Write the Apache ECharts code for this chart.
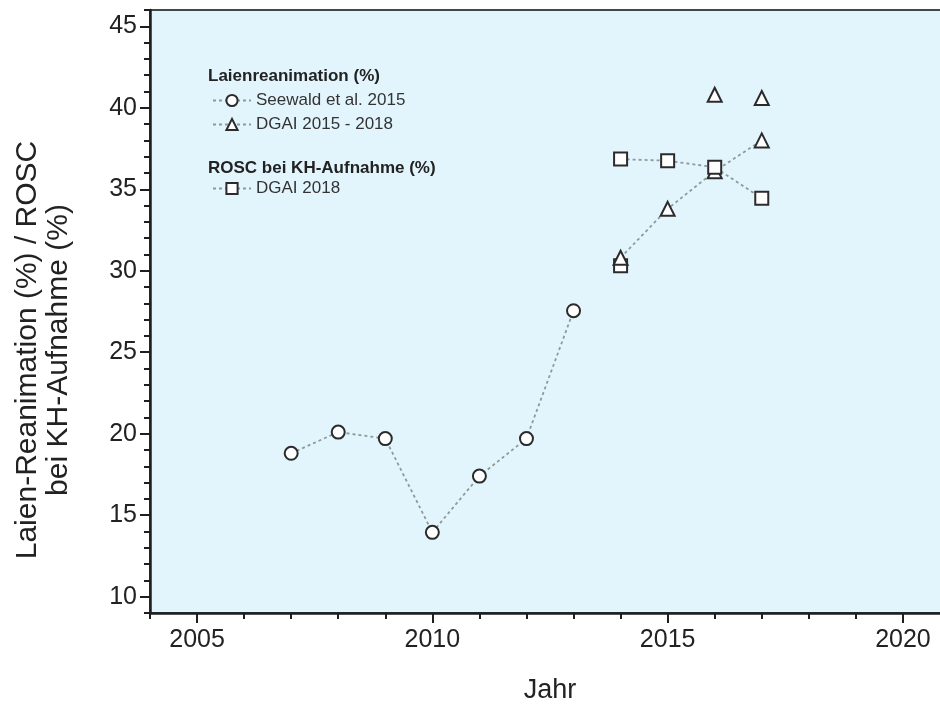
<!DOCTYPE html>
<html><head><meta charset="utf-8">
<script src="https://cdn.jsdelivr.net/npm/echarts@6/dist/echarts.min.js"></script>
<style>html,body{margin:0;padding:0;background:#fff}#c{width:940px;height:704px}</style>
</head><body><div id="c"></div>
<script>
// ---- data ----
const seewaldYears = [2007, 2008, 2009, 2010, 2011, 2012, 2013];
const seewaldValues = [18.8, 20.1, 19.7, 13.95, 17.4, 19.7, 27.55];
const dgaiLaienYears = [2014, 2015, 2016, 2017];
const dgaiLaienValues = [30.8, 33.8, 36.1, 38.0];
const dgaiLaienExtraYears = [2016, 2017];
const dgaiLaienExtraValues = [40.8, 40.6];
const roscYears = [2014, 2015, 2016, 2017];
const roscValues = [36.85, 36.75, 36.35, 34.45];
const roscExtraYears = [2014];
const roscExtraValues = [30.3];
const xTickLabels = [2005, 2010, 2015, 2020];
const yTickLabels = [10, 15, 20, 25, 30, 35, 40, 45];
const legendLaien = ['Seewald et al. 2015', 'DGAI 2015 - 2018'];
const legendRosc = ['DGAI 2018'];

const FONT = 'Liberation Sans, Arial, Helvetica, sans-serif';
const pair = (xs, ys) => xs.map((x, i) => [x, ys[i]]);
const markerStyle = { color: '#ffffff', borderColor: '#2b2b2b', borderWidth: 2, opacity: 1 };
const dotLine = { color: '#8e9a9a', width: 1.8, type: [3, 3] };
const axisCol = '#1e1e1e';

const chart = echarts.init(document.getElementById('c'), null, { renderer: 'canvas' });
const grid = { left: 150, right: -10, top: 10, bottom: 91, show: true, outerBoundsMode: 'none',
  backgroundColor: '#e3f5fc', borderColor: '#3b4b47', borderWidth: 2 };

chart.setOption({
  animation: false,
  grid: grid,
  xAxis: [{
    type: 'value', min: 2004, max: 2021, gridIndex: 0,
    name: 'Jahr', nameLocation: 'middle', nameGap: 64,
    nameTextStyle: { fontSize: 27, fontFamily: FONT, color: '#222' },
    axisLine: { show: true, lineStyle: { color: axisCol, width: 2.5 } },
    axisTick: { show: true, customValues: xTickLabels, length: 10, lineStyle: { color: axisCol, width: 2 } },
    axisLabel: { show: true, customValues: xTickLabels, margin: 15, fontSize: 25, fontFamily: FONT, color: '#222',
      formatter: v => String(v) },
    splitLine: { show: false }
  }, {
    type: 'value', min: 2004, max: 2021, interval: 1, gridIndex: 0, position: 'bottom',
    axisLine: { show: false },
    axisTick: { show: true, length: 6, lineStyle: { color: axisCol, width: 2 } },
    axisLabel: { show: false },
    splitLine: { show: false }
  }],
  yAxis: [{
    type: 'value', min: 9, max: 46, gridIndex: 0,
    axisLine: { show: true, lineStyle: { color: axisCol, width: 2.5 } },
    axisTick: { show: true, customValues: yTickLabels, length: 10, lineStyle: { color: axisCol, width: 2 } },
    axisLabel: { show: true, customValues: yTickLabels, margin: 13, fontSize: 25, fontFamily: FONT, color: '#222' },
    splitLine: { show: false }
  }, {
    type: 'value', min: 9, max: 46, interval: 1, gridIndex: 0, position: 'left',
    axisLine: { show: false },
    axisTick: { show: true, length: 6, lineStyle: { color: axisCol, width: 2 } },
    axisLabel: { show: false },
    splitLine: { show: false }
  }],
  legend: [{
    data: legendLaien, orient: 'vertical', left: 212, top: 92, padding: 0,
    itemWidth: 38, itemHeight: 14, itemGap: 7,
    textStyle: { fontSize: 17, fontFamily: FONT, color: '#333' }
  }, {
    data: legendRosc, orient: 'vertical', left: 212, top: 180, padding: 0,
    itemWidth: 38, itemHeight: 14, itemGap: 7,
    textStyle: { fontSize: 17, fontFamily: FONT, color: '#333' }
  }],
  graphic: [
    { type: 'text', left: 208, top: 68, style: { text: 'Laienreanimation (%)', font: 'bold 17px ' + FONT, fill: '#222' } },
    { type: 'text', left: 208, top: 160, style: { text: 'ROSC bei KH-Aufnahme (%)', font: 'bold 17px ' + FONT, fill: '#222' } },
    { type: 'text', x: 43, y: 350, rotation: Math.PI / 2,
      style: { text: 'Laien-Reanimation (%) / ROSC\nbei KH-Aufnahme (%)', font: '30px ' + FONT,
        align: 'center', verticalAlign: 'middle', lineHeight: 31, fill: '#222' } }
  ],
  series: [
    { name: 'Seewald et al. 2015', type: 'line', data: pair(seewaldYears, seewaldValues),
      symbol: 'circle', symbolSize: 13, itemStyle: markerStyle, lineStyle: dotLine, z: 3 },
    { name: 'DGAI 2015 - 2018', type: 'line', data: pair(dgaiLaienYears, dgaiLaienValues),
      symbol: 'triangle', symbolSize: 14, itemStyle: markerStyle, lineStyle: dotLine, z: 3 },
    { name: 'DGAI 2018', type: 'line', data: pair(roscYears, roscValues),
      symbol: 'rect', symbolSize: 13, itemStyle: markerStyle, lineStyle: dotLine, z: 3 },
    { name: 'DGAI extra', type: 'scatter', data: pair(dgaiLaienExtraYears, dgaiLaienExtraValues),
      symbol: 'triangle', symbolSize: 14, itemStyle: markerStyle, z: 4 },
    { name: 'ROSC extra', type: 'scatter', data: pair(roscExtraYears, roscExtraValues),
      symbol: 'rect', symbolSize: 13, itemStyle: markerStyle, z: 2 }
  ]
});
</script>
</body></html>
